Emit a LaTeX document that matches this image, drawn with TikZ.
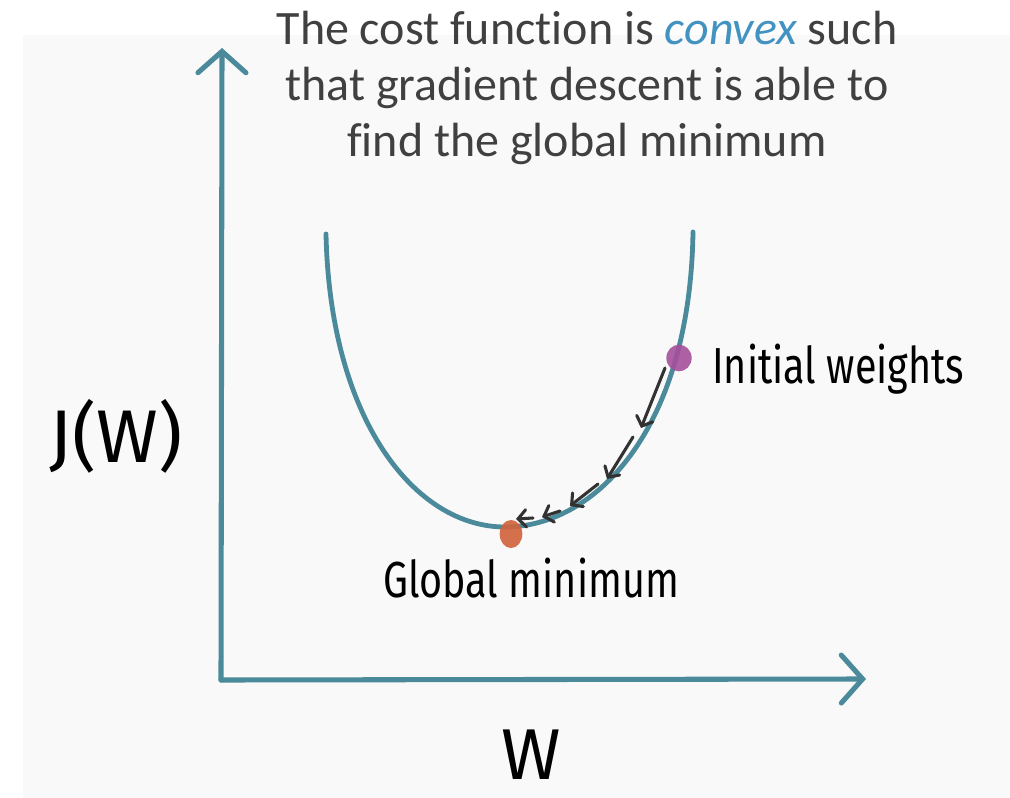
\documentclass[tikz,border=0pt]{standalone}
\usepackage{fontspec}
\setmainfont{Carlito}[Ligatures=NoCommon]
\newfontfamily\handfont[FakeStretch=0.78]{Fira Sans}
\newfontfamily\axisfont{Fira Sans}
\usetikzlibrary{arrows.meta,shapes.geometric}
\definecolor{axisteal}{RGB}{74,138,154}
\definecolor{titlegray}{RGB}{64,64,64}
\definecolor{convexblue}{RGB}{66,146,194}
\definecolor{panelgray}{RGB}{249,249,250}
\definecolor{startpurple}{RGB}{166,80,156}
\definecolor{minorange}{RGB}{210,98,58}
\definecolor{stepgray}{RGB}{50,50,50}
\tikzset{
  axis/.style={axisteal, line width=3.8pt, line cap=round, -{Straight Barb[length=16pt,width=36pt,line cap=round]}},
  costcurve/.style={axisteal, line width=3.6pt, line cap=round},
  gradstep/.style={stepgray, line width=2.3pt, line cap=round, -{Straight Barb[length=6pt,width=13pt,line cap=round]}},
  handlabel/.style={font=\handfont\fontsize{38}{40}\selectfont, inner sep=0pt},
  axislabel/.style={font=\axisfont\fontsize{56}{58}\selectfont, inner sep=0pt},
  weightdot/.style={ellipse, inner sep=0pt, fill opacity=0.9}
}
\begin{document}
\begin{tikzpicture}[x=0.75pt, y=-0.75pt]
			\useasboundingbox (0,0) rectangle (1010,798);
			\fill[panelgray] (23,35) rectangle (1010,798);
			%Titre
			\node[titlegray, font=\fontsize{36}{42}\selectfont, align=center, anchor=base, inner sep=0pt] (title) at (587,157)
				{The cost function is \textcolor{convexblue}{\itshape convex} such\\that gradient descent is able to\\find the global minimum};
			%Axes
			\coordinate (origin) at (221,680);
			\coordinate (ytop) at (222,48);
			\coordinate (xend) at (866,679);
			\draw[axis] (origin) -- (ytop);
			\draw[axis] (origin) -- (xend);
			\node[axislabel, anchor=base] (ylabel) at (116,462) {J(W)};
			\node[axislabel, anchor=base, font=\axisfont\fontsize{54}{56}\selectfont] (xlabel) at (531,779) {W};
			%Fonction de coût
			\draw[costcurve] (326,234) .. controls (330,420) and (415,527) .. (505,527)
				.. controls (595,527) and (690,430) .. (693,232);
			%Points
			\node[weightdot, fill=startpurple, minimum width=19pt, minimum height=20pt] (init) at (679,358) {};
			\node[weightdot, fill=minorange, minimum width=17pt, minimum height=21pt] (globmin) at (511,534) {};
			\node[handlabel, anchor=base west] (initlabel) at (712,383) {Initial weights};
			\node[handlabel, anchor=base west] (minlabel) at (383,597) {Global minimum};
			%Pas de descente
			\coordinate (s1a) at (665,368); \coordinate (s1b) at (641,428);
			\coordinate (s2a) at (633,437); \coordinate (s2b) at (607,479);
			\coordinate (s3a) at (598,484); \coordinate (s3b) at (570,506);
			\coordinate (s4a) at (560,511); \coordinate (s4b) at (542,517);
			\coordinate (s5a) at (533,518); \coordinate (s5b) at (516,519);
			\foreach \s in {1,...,5}
				\draw[gradstep] (s\s a) -- (s\s b);
		\end{tikzpicture}
\end{document}
